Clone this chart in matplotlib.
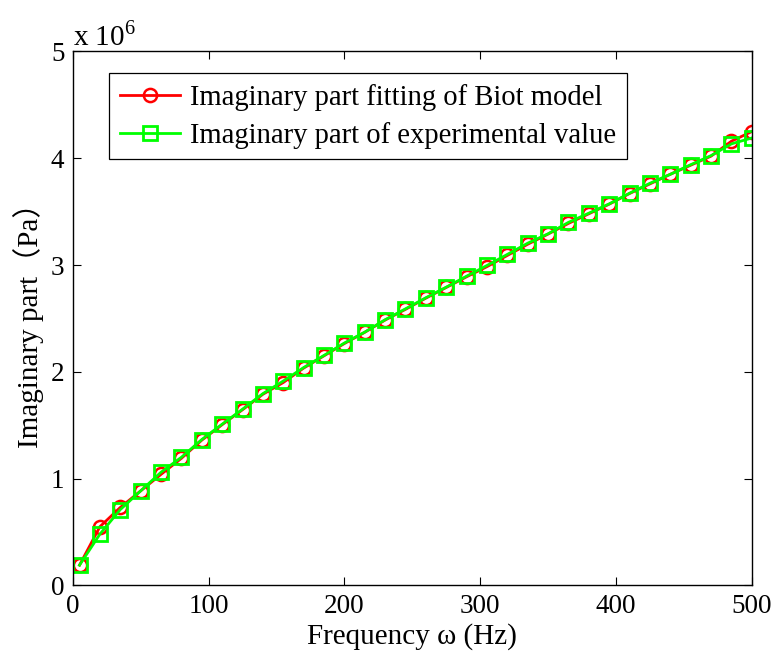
"""
Imaginary part of the modulus: Biot model fit vs. experimental values.
"""

import matplotlib
matplotlib.use("Agg")
import matplotlib.pyplot as plt

# frequencies (Hz)
freq = [5, 20, 35, 50, 65, 80, 95, 110, 125, 140, 155, 170, 185, 200, 215, 230, 245,
        260, 275, 290, 305, 320, 335, 350, 365, 380, 395, 410, 425, 440, 455, 470,
        485, 500]

# imaginary part, in units of 1e6 Pa
biot_fit = [0.19, 0.55, 0.73, 0.885, 1.04, 1.19, 1.36, 1.505, 1.645, 1.79, 1.90, 2.035,
            2.15, 2.265, 2.37, 2.485, 2.585, 2.69, 2.79, 2.89, 2.985, 3.09, 3.195, 3.29,
            3.39, 3.48, 3.57, 3.67, 3.76, 3.85, 3.935, 4.02, 4.16, 4.25]
experiment = [0.19, 0.48, 0.71, 0.885, 1.06, 1.20, 1.366, 1.51, 1.65, 1.796, 1.914, 2.04,
              2.154, 2.27, 2.372, 2.488, 2.59, 2.694, 2.793, 2.896, 2.996, 3.10, 3.205,
              3.293, 3.40, 3.486, 3.573, 3.673, 3.766, 3.85, 3.94, 4.025, 4.135, 4.19]

plt.rcParams["font.family"] = ["Liberation Serif", "Noto Sans CJK SC"]
plt.rcParams["mathtext.fontset"] = "custom"
plt.rcParams["mathtext.rm"] = "Liberation Serif"

fig = plt.figure(figsize=(7.77, 6.6), dpi=100)
ax = fig.add_axes([0.0936, 0.113, 0.874, 0.809])

ax.plot(freq, biot_fit, color="#ff0000", lw=2.0, marker="o", ms=9.5,
        mfc="none", mew=1.8, label="Imaginary part fitting of Biot model")
ax.plot(freq, experiment, color="#00ff00", lw=2.0, marker="s", ms=10,
        mfc="none", mew=2.0, label="Imaginary part of experimental value")

ax.set_xlim(0, 500)
ax.set_ylim(0, 5)
ax.set_xticks([0, 100, 200, 300, 400, 500])
ax.set_yticks([0, 1, 2, 3, 4, 5])
ax.tick_params(direction="in", length=6, width=0.8, top=True, right=True,
               labelsize=19.5, pad=6)
for s in ax.spines.values():
    s.set_linewidth(1.0)

ax.text(0.0, 1.0, r"x 10$^{6}$", transform=ax.transAxes, fontsize=21,
        ha="left", va="bottom")

ax.set_xlabel("Frequency ω (Hz)", fontsize=21, labelpad=3)
ax.set_ylabel("Imaginary part（Pa）", fontsize=21, labelpad=5)

leg = ax.legend(loc="upper left", bbox_to_anchor=(0.053, 0.96), borderaxespad=0,
                fontsize=20.6, fancybox=False, framealpha=1, edgecolor="black",
                handlelength=2.1, handletextpad=0.35, borderpad=0.38, labelspacing=0.38)
leg.get_frame().set_linewidth(0.9)

fig.savefig("out.png", dpi=100)
